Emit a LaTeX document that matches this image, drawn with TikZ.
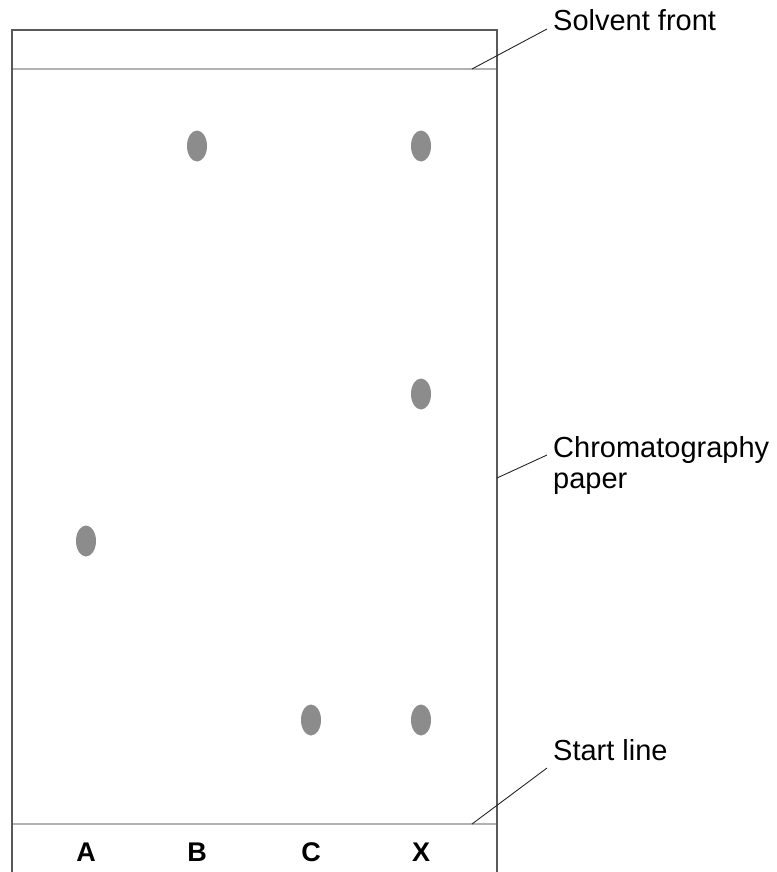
\documentclass[tikz,border=0pt]{standalone}
\usepackage{fontspec}
\setmainfont{Liberation Sans}
\usetikzlibrary{positioning,shapes.geometric}

\begin{document}
\begin{tikzpicture}[
    x=1pt, y=-1pt,
    frame/.style={draw=black!65, line width=1.6pt},
    level/.style={draw=black!30, line width=2.2pt},
    spot/.style={ellipse, fill=black!45, minimum width=20pt, minimum height=31pt, inner sep=0pt},
    lane/.style={font=\bfseries\fontsize{27}{30}\selectfont, inner sep=0pt},
    callout/.style={font=\fontsize{29}{31}\selectfont, align=left, anchor=west, inner sep=0pt},
    leader/.style={draw=black!85, line width=0.9pt},
]
\useasboundingbox (0,0) rectangle (776,872);

% Paper, solvent front and start line.
\draw[frame] (12,872) -- (12,30) -- (497,30) -- (497,872);
\draw[level] (13,69) coordinate (sf_l) -- (496,69) coordinate (sf_r);
\draw[level] (13,824) coordinate (sl_l) -- (496,824) coordinate (sl_r);

% Lane letters under the start line.
\node[lane] (lane_a) at (86,852)  {A};
\node[lane] (lane_b) at (197,852) {B};
\node[lane] (lane_c) at (311,852) {C};
\node[lane] (lane_x) at (421,852) {X};

% Spots.
\node[spot] (spot_a)  at (86,541)  {};
\node[spot] (spot_b)  at (197,146) {};
\node[spot] (spot_c)  at (311,720) {};
\node[spot] (spot_x1) at (421,146) {};
\node[spot] (spot_x2) at (421,394) {};
\node[spot] (spot_x3) at (421,720) {};

% Callouts.
\node[callout] (lbl_front) at (553,20)  {Solvent front};
\node[callout] (lbl_paper) at (553,465) {Chromatography\\paper};
\node[callout] (lbl_start) at (553,750) {Start line};

\coordinate (front_pt) at (472,69);
\coordinate (paper_pt) at (497,478);
\coordinate (start_pt) at (472,824);
\draw[leader] (front_pt) -- (547,29);
\draw[leader] (paper_pt) -- (547,455);
\draw[leader] (start_pt) -- (547,768);
\end{tikzpicture}
\end{document}
